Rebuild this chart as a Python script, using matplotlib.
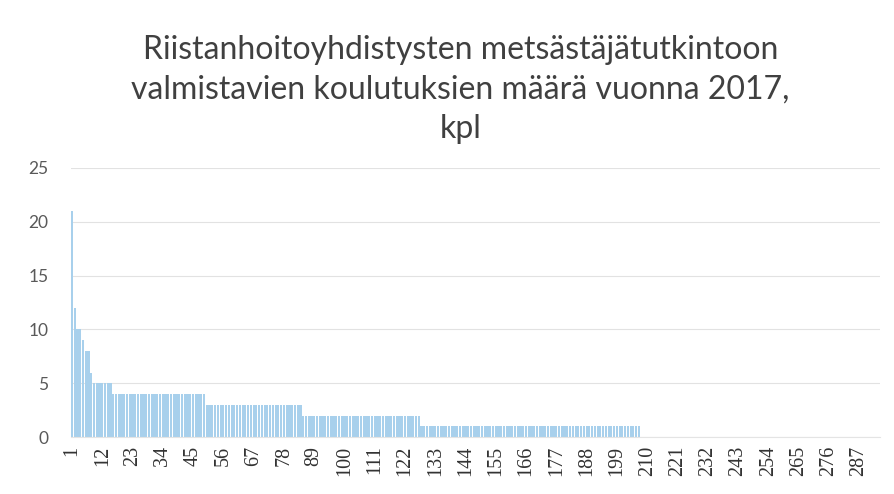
import numpy as np
import matplotlib
matplotlib.use('Agg')
import matplotlib.pyplot as plt

# number of trainings per association, sorted descending (read as runs)
levels = [21, 12, 10, 9, 8, 6, 5, 4, 3, 2, 1, 0]
counts = [1, 1, 2, 1, 2, 1, 7, 34, 35, 43, 80, 87]
values = np.repeat(levels, counts)
categories = np.arange(1, len(values) + 1)

tick_labels = [str(c) for c in categories[::11]]

title = ("Riistanhoitoyhdistysten metsästäjätutkintoon\n"
         "valmistavien koulutuksien määrä vuonna 2017,\n"
         "kpl")

fig = plt.figure(figsize=(8.94, 4.94), dpi=100)
ax = fig.add_axes([0.079, 0.115, 0.905, 0.545])

ax.bar(categories, values, width=0.8, color='#a8d0ec', edgecolor='none')

ax.set_xlim(0.5, len(values) + 0.5)
ax.set_ylim(0, 25)
ax.set_yticks([0, 5, 10, 15, 20, 25])
ax.set_xticks(categories[::11])
ax.set_xticklabels(tick_labels, rotation=90, fontfamily='Liberation Serif',
                   fontsize=14.5, color='#333333')
for lab in ax.get_yticklabels():
    lab.set_fontfamily('Lato')
    lab.set_fontsize(12.5)
    lab.set_color('#595959')
ax.tick_params(axis='x', length=0, pad=6)
ax.tick_params(axis='y', length=0, pad=16)

ax.grid(axis='y', color='#e2e2e2', linewidth=0.8)
ax.set_axisbelow(True)
for side in ['top', 'right', 'left']:
    ax.spines[side].set_visible(False)
ax.spines['bottom'].set_color('#e4e4e4')

fig.text(0.515, 0.93, title, ha='center', va='top', fontfamily='Lato',
         fontsize=23, color='#404040', linespacing=1.4)

fig.savefig('out.png', dpi=100, facecolor='white')
